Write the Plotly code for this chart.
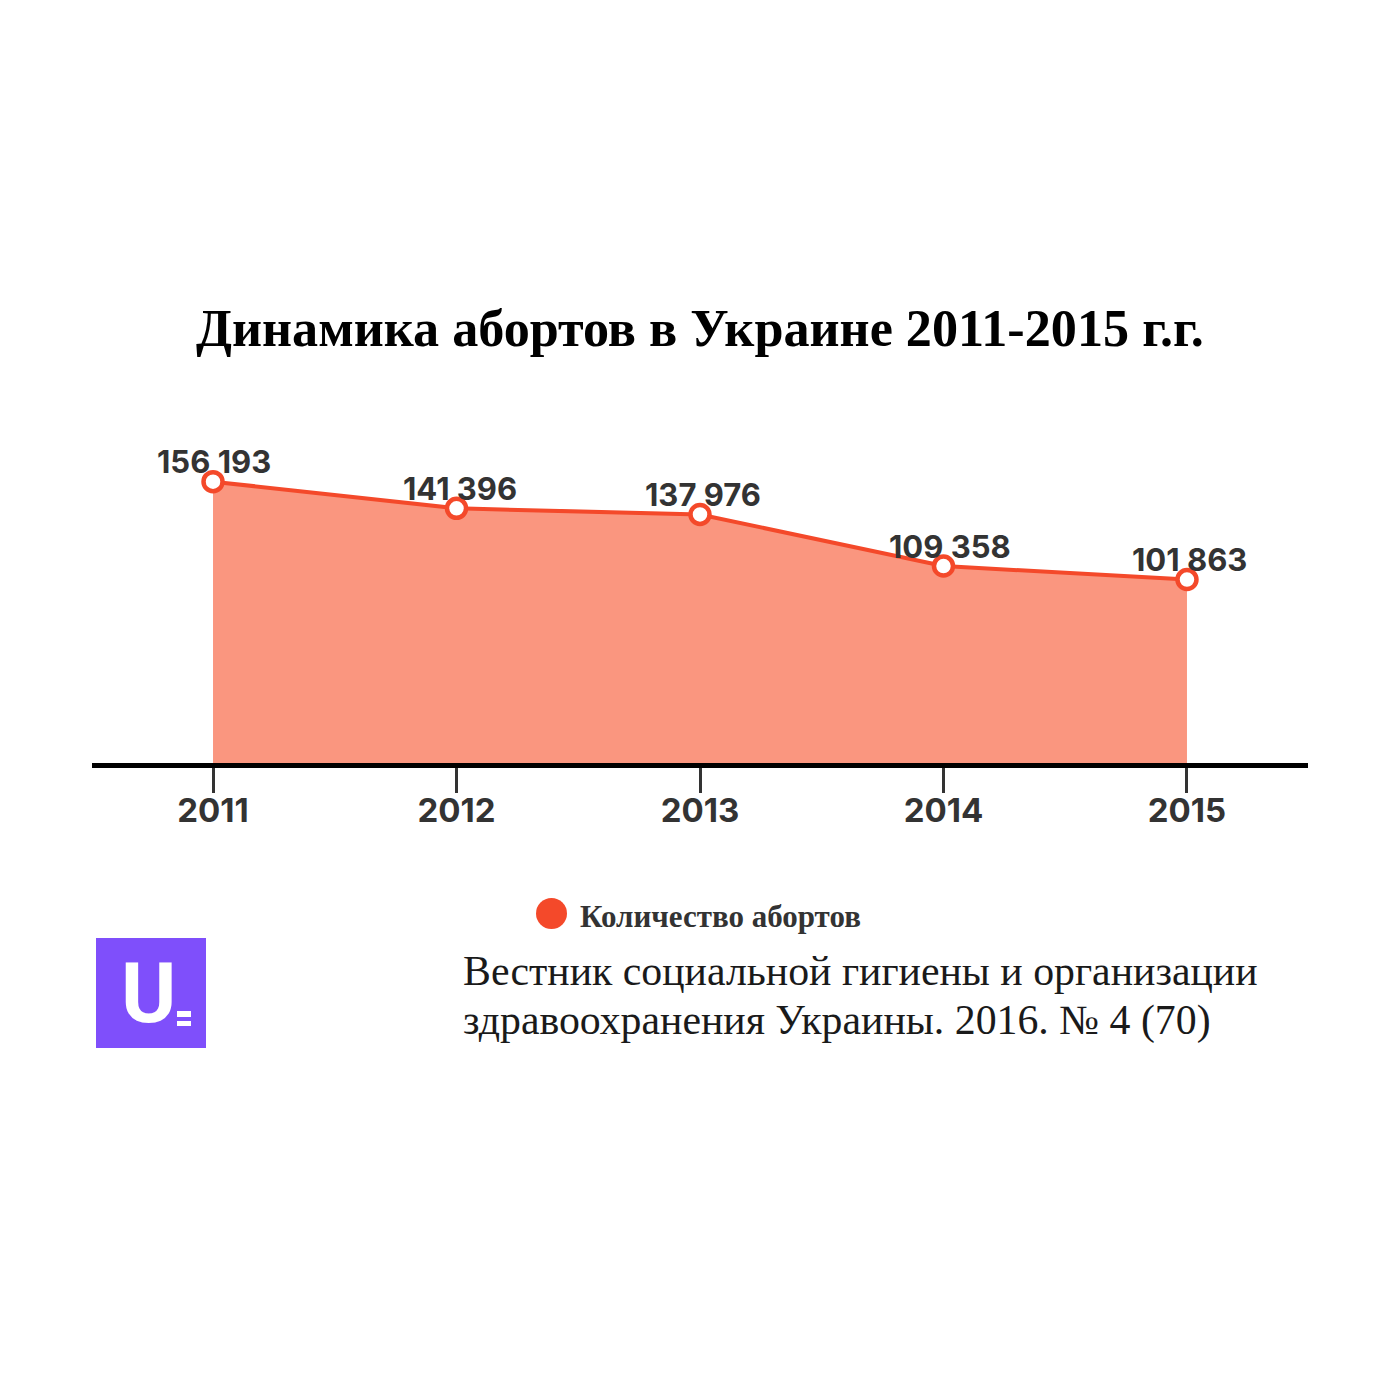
import plotly.graph_objects as go

years = ["2011", "2012", "2013", "2014", "2015"]
abortions = [156193, 141396, 137976, 109358, 101863]
value_labels = ["156 193", "141 396", "137 976", "109 358", "101 863"]
title_text = "Динамика абортов в Украине 2011-2015 г.г."
legend_text = "Количество абортов"
source_lines = ["Вестник социальной гигиены и организации",
                "здравоохранения Украины. 2016. № 4 (70)"]
source_rows = [971, 1020]
positions = [0, 1, 2, 3, 4]
label_nudges = [1, 3, 3, 7, 3]

W = 1400.0
PAGE = 8  # the page's own margin around the plot
def fx(px): return (px - PAGE) / W
def fy(py): return 1 - (py - PAGE) / W

def note(text, px, py, size, color, family, anchor="center", weight=400):
    return dict(text=text, x=fx(px), y=fy(py), xref="paper", yref="paper",
                xanchor=anchor, yanchor="middle", showarrow=False,
                font=dict(family=family, size=size, color=color, weight=weight))

fig = go.Figure()
fig.add_trace(go.Scatter(
    x=positions, y=abortions, mode="lines+markers",
    line=dict(color="#f4492a", width=4),
    fill="tozeroy", fillcolor="#fa967f",
    marker=dict(size=19, color="white", line=dict(color="#f4492a", width=4.5)),
    showlegend=False, cliponaxis=False, hoverinfo="skip"))

annotations = [
    dict(text=label, x=pos, y=val, xref="x", yref="y", xanchor="center", yanchor="middle",
         xshift=nudge, yshift=20, showarrow=False,
         font=dict(family="Inter, Roboto, sans-serif", size=31, color="#333333", weight=700))
    for pos, val, label, nudge in zip(positions, abortions, value_labels, label_nudges)
]
annotations += [
    note(title_text, 700, 328, 52.2, "black", "Liberation Serif", weight=700),
    note(legend_text, 578, 917, 31, "#333333", "Liberation Serif", anchor="left", weight=700),
    note("U", 148, 993, 84, "white", "Roboto", weight=700),
]
annotations += [note(line, 461, row, 41.8, "#1a1a1a", "Liberation Serif", anchor="left")
                for line, row in zip(source_lines, source_rows)]

fig.update_layout(
    width=1400, height=1400, autosize=False,
    margin=dict(l=0, r=0, t=0, b=0),
    paper_bgcolor="white", plot_bgcolor="rgba(0,0,0,0)",
    xaxis=dict(domain=[fx(92), fx(1308)], range=[-0.497, 4.497],
               tickvals=positions, ticktext=years, ticks="outside", ticklen=25,
               tickwidth=2.5, tickcolor="#333333", showgrid=False, zeroline=False,
               showline=True, linecolor="black", linewidth=5, ticklabelstandoff=-11,
               tickfont=dict(family="Inter, Roboto, sans-serif", size=33, color="#333333", weight=700)),
    yaxis=dict(domain=[fy(763), fy(428)], range=[0, 186000], visible=False),
    annotations=annotations,
    shapes=[
        dict(type="circle", xref="paper", yref="paper", x0=fx(536), x1=fx(567), y0=fy(929), y1=fy(898),
             fillcolor="#f4492a", line_width=0),
        dict(type="rect", xref="paper", yref="paper", x0=fx(96), x1=fx(206), y0=fy(1048), y1=fy(938),
             fillcolor="#7f4ffb", line_width=0, layer="below"),
        dict(type="rect", xref="paper", yref="paper", x0=fx(177), x1=fx(191), y0=fy(1017), y1=fy(1011),
             fillcolor="white", line_width=0),
        dict(type="rect", xref="paper", yref="paper", x0=fx(177), x1=fx(191), y0=fy(1026), y1=fy(1021),
             fillcolor="white", line_width=0),
    ],
)
fig.write_html("out.html")
